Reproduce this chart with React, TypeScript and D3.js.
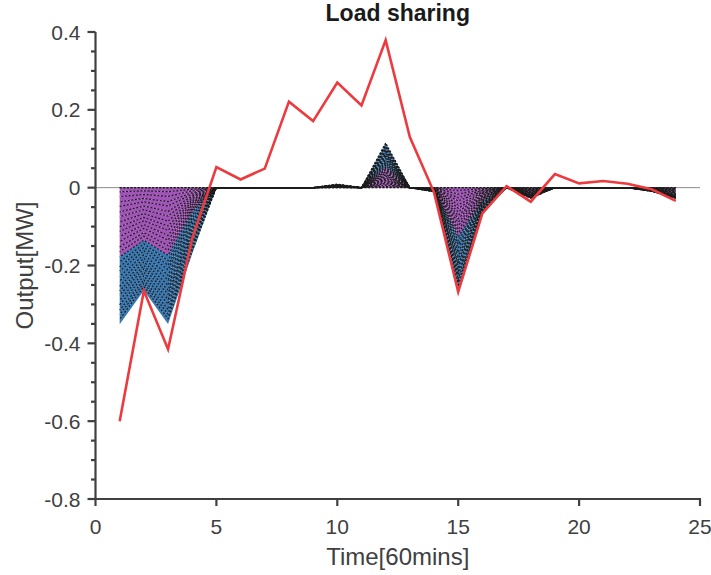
import React from "react";
import * as d3 from "d3";

// ---- data ----
const hours = [1, 2, 3, 4, 5, 6, 7, 8, 9, 10, 11, 12, 13, 14, 15, 16, 17, 18, 19, 20, 21, 22, 23, 24];
const netLoad = [-0.6, -0.265, -0.415, -0.13, 0.053, 0.021, 0.049, 0.221, 0.171, 0.27, 0.211, 0.379, 0.13, -0.012, -0.268, -0.066, 0.004, -0.036, 0.035, 0.011, 0.017, 0.01, -0.004, -0.034];
const purpleTotal = [-0.178, -0.135, -0.174, -0.062, 0, 0, 0, 0, 0, 0.004, 0, 0.053, 0, -0.006, -0.126, -0.035, 0, -0.018, 0, 0, 0, 0, -0.006, -0.02];
const blueTotal = [-0.173, -0.129, -0.176, -0.108, 0, 0, 0, 0, 0, 0.005, 0, 0.062, 0, -0.005, -0.138, -0.031, 0, -0.01, 0, 0, 0, 0, -0.004, -0.008];
const purpleShares = [0.06, 0.07, 0.075, 0.065, 0.08, 0.07, 0.075, 0.07, 0.065, 0.075, 0.07, 0.08, 0.07, 0.075];
const blueShares = [0.075, 0.07, 0.065, 0.08, 0.07, 0.075, 0.07, 0.06, 0.075, 0.07, 0.08, 0.065, 0.07, 0.075];
const xTicks = [0, 5, 10, 15, 20, 25];
const yTicks = [-0.8, -0.6, -0.4, -0.2, 0, 0.2, 0.4];
const yMinorTicks = [-0.75, -0.7, -0.65, -0.55, -0.5, -0.45, -0.35, -0.3, -0.25, -0.15, -0.1, -0.05, 0.05, 0.1, 0.15, 0.25, 0.3, 0.35];

const W = 711, H = 575;
const L = 95.5, R = 700, T = 32, B = 499;
const PURPLE = "#a255b8";
const BLUE = "#3879b4";
const AXIS = "#404040";
const FONT = "'Liberation Sans', Arial, Helvetica, sans-serif";

export default function App() {
  const x = d3.scaleLinear().domain([0, 25]).range([L, R]);
  const y = d3.scaleLinear().domain([-0.8, 0.4]).range([B, T]);

  const keys: string[] = [];
  const colorOf: Record<string, string> = {};
  purpleShares.forEach((_, i) => { keys.push("p" + i); colorOf["p" + i] = PURPLE; });
  blueShares.forEach((_, i) => { keys.push("b" + i); colorOf["b" + i] = BLUE; });

  const rows = hours.map((h, j) => {
    const r: Record<string, number> = { hour: h };
    purpleShares.forEach((s, i) => { r["p" + i] = purpleTotal[j] * s; });
    blueShares.forEach((s, i) => { r["b" + i] = blueTotal[j] * s; });
    return r;
  });

  const series = d3.stack<Record<string, number>>().keys(keys).offset(d3.stackOffsetDiverging)(rows);

  const area = d3.area<any>()
    .x((d) => x(d.data.hour))
    .y0((d) => y(d[0]))
    .y1((d) => y(d[1]));
  const edge = d3.line<any>()
    .x((d) => x(d.data.hour))
    .y((d) => y(d[1]));
  const baseLine = d3.line<number>().x((h) => x(h)).y(() => y(0));
  const redLine = d3.line<number>().x((_, i) => x(hours[i])).y((v) => y(v));

  return (
    <svg width={W} height={H} style={{ position: "absolute", left: 0, top: 0, background: "#fff" }} fontFamily={FONT}>
      {/* baseline */}
      <line x1={L} x2={R} y1={y(0)} y2={y(0)} stroke="#8a8a8a" strokeWidth={1} />
      {/* stacked areas */}
      {series.map((s) => (
        <path key={"a" + s.key} d={area(s as any) || ""} fill={colorOf[s.key]} stroke="none" />
      ))}
      <path d={baseLine(hours) || ""} fill="none" stroke="#1a1a1a" strokeWidth={1.2} strokeDasharray="2 1.6" />
      {series.map((s, i) => (
        <path key={"e" + s.key} d={edge(s as any) || ""} fill="none" stroke="#1c1c1c" strokeWidth={1.2}
          strokeDasharray="2 1.6" strokeDashoffset={(i * 0.9) % 3.6} />
      ))}
      {/* net load line */}
      <path d={redLine(netLoad) || ""} fill="none" stroke="#ec3a3e" strokeWidth={2.6} strokeLinejoin="miter" />

      {/* axes */}
      <g stroke={AXIS} strokeWidth={2.2} fill="none">
        <line x1={L} x2={L} y1={T} y2={B + 1} />
        <line x1={L - 1} x2={R + 1} y1={B} y2={B} />
        {yTicks.map((t) => (
          <line key={"yt" + t} x1={L - 8} x2={L} y1={y(t)} y2={y(t)} />
        ))}
        {yMinorTicks.map((t) => (
          <line key={"ym" + t} x1={L - 4.5} x2={L} y1={y(t)} y2={y(t)} />
        ))}
        {xTicks.map((t) => (
          <line key={"xt" + t} x1={x(t)} x2={x(t)} y1={B} y2={B + 7} />
        ))}
      </g>
      <g fill={AXIS} fontSize={21}>
        {yTicks.map((t) => (
          <text key={"yl" + t} x={L - 15} y={y(t)} dy="0.36em" textAnchor="end">
            {t === 0 ? "0" : t.toFixed(1)}
          </text>
        ))}
        {xTicks.map((t) => (
          <text key={"xl" + t} x={x(t)} y={534} textAnchor="middle">{t}</text>
        ))}
      </g>
      <text x={(L + R) / 2} y={565} textAnchor="middle" fontSize={24} fill={AXIS}>Time[60mins]</text>
      <text transform={`translate(33,${(T + B) / 2}) rotate(-90)`} textAnchor="middle" fontSize={24} fill={AXIS}>Output[MW]</text>
      <text x={(L + R) / 2} y={21} textAnchor="middle" fontSize={23} fontWeight="bold" fill="#1a1a1a">Load sharing</text>
    </svg>
  );
}
